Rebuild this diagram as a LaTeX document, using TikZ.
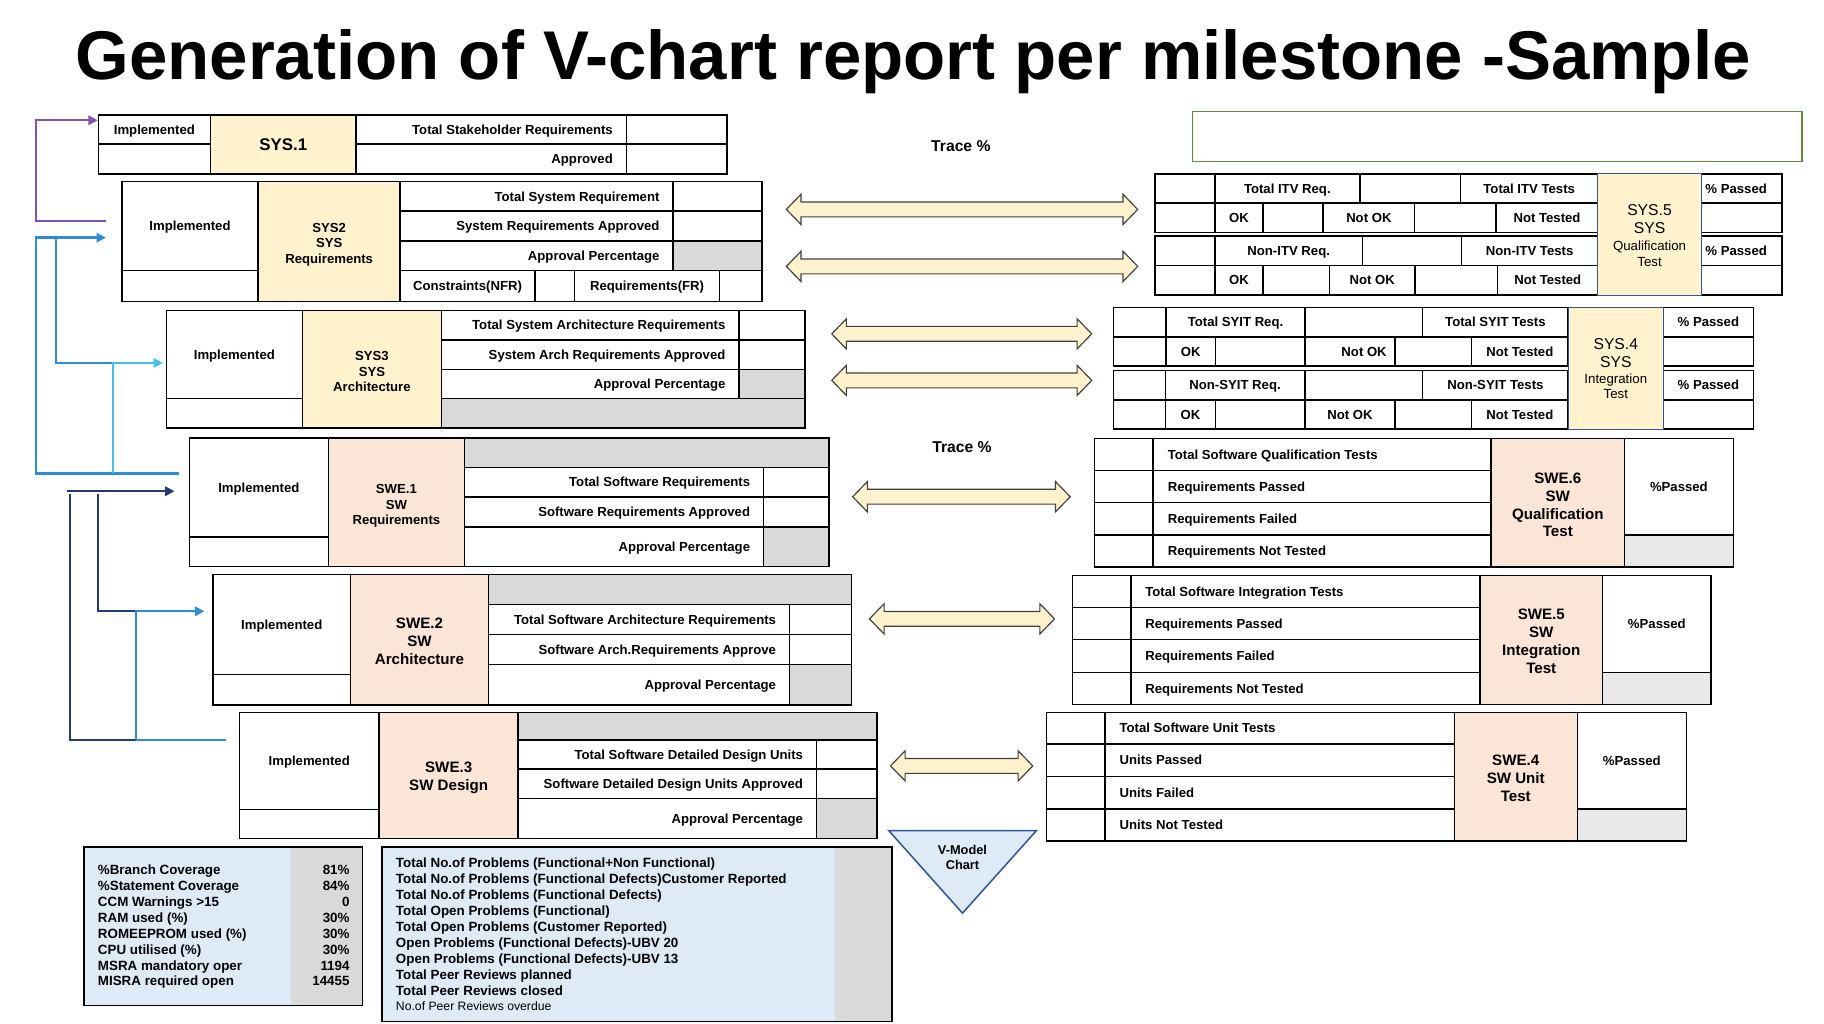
\documentclass[tikz,border=0pt]{standalone}
\usepackage{fontspec}
\setmainfont{Liberation Sans}
\usetikzlibrary{arrows.meta}
\definecolor{yel}{HTML}{FFF2CC}
\definecolor{pch}{HTML}{FBE5D6}
\definecolor{gry}{HTML}{D9D9D9}
\definecolor{lgry}{HTML}{E9E9E9}
\definecolor{lblu}{HTML}{DEEBF7}
\definecolor{purp}{HTML}{8152B3}
\definecolor{blu}{HTML}{2E8BD6}
\definecolor{cyn}{HTML}{45BDEE}
\definecolor{nav}{HTML}{1F3B78}
\definecolor{grn}{HTML}{5B8C3A}
\definecolor{vbord}{HTML}{2F5597}
\definecolor{arrbord}{HTML}{404040}
\newcommand{\ecell}[5]{\draw[tb,fill=#5] (#1,#2) rectangle (#3,#4);}
\newcommand{\rcell}[5]{\draw[tb,fill=white] (#1,#2) rectangle (#3,#4); \node[lbl,anchor=east] at ({#3-11.5},{(#2+#4)/2}) {#5};}
\newcommand{\ccell}[5]{\draw[tb,fill=white] (#1,#2) rectangle (#3,#4); \node[lbl] at ({(#1+#3)/2},{(#2+#4)/2}) {#5};}
\newcommand{\lcell}[6]{\draw[tb,fill=white] (#1,#2) rectangle (#3,#4); \node[lbl,anchor=west] at ({#1+#6},{(#2+#4)/2}) {#5};}
\newcommand{\darrow}[3]{\draw[draw=arrbord,fill=yel,line width=1pt,line join=miter] (#1,#3) -- ({#1+12.6},{#3-13}) -- ({#1+12.6},{#3-6.4}) -- ({#2-12.6},{#3-6.4}) -- ({#2-12.6},{#3-13}) -- (#2,#3) -- ({#2-12.6},{#3+13}) -- ({#2-12.6},{#3+6.4}) -- ({#1+12.6},{#3+6.4}) -- ({#1+12.6},{#3+13}) -- cycle;}
\begin{document}
\begin{tikzpicture}[x=1pt,y=-1pt,
  tb/.style={draw=black,line width=1.3pt},
  lbl/.style={font=\fontsize{11.3}{13}\selectfont\bfseries,inner sep=0pt,text height=8pt,text depth=0pt},
  mid/.style={font=\fontsize{11.3}{13.2}\selectfont\bfseries,inner sep=0pt,align=center},
  big/.style={font=\fontsize{13}{15.4}\selectfont\bfseries,inner sep=0pt,align=center},
  bx/.style={font=\fontsize{11.5}{13}\selectfont\bfseries,inner sep=0pt,text height=8pt,text depth=0pt},
  conn/.style={line width=2pt,-{Triangle[length=8pt,width=8pt]}},
  plain/.style={line width=2pt}]
\useasboundingbox (0,0) rectangle (1568,880);
\fill[white] (0,0) rectangle (1568,880);
% title
\node[font=\fontsize{59.3}{66}\selectfont\bfseries,inner sep=0pt,anchor=base] (title) at (785,68) {Generation of V-chart report per milestone -Sample};
% ---------------- SYS.1
\ccell{84.5}{99}{181}{124}{Implemented}
\ecell{84.5}{124}{181}{149.5}{white}
\draw[tb,fill=yel] (181,99) rectangle (306,149.5);
\node[font=\fontsize{14.5}{16}\selectfont\bfseries,inner sep=0pt] (sys1) at (243.5,124.5) {SYS.1};
\rcell{306}{99}{538.5}{124}{Total Stakeholder Requirements}
\rcell{306}{124}{538.5}{149.5}{Approved}
\ecell{538.5}{99}{625}{124}{white}
\ecell{538.5}{124}{625}{149.5}{white}
% ---------------- SYS2
\ccell{105}{156}{221.7}{232.5}{Implemented}
\ecell{105}{232.5}{221.7}{259}{white}
\draw[tb,fill=yel] (221.7,156) rectangle (344,259);
\node[mid] (sys2) at (283,210.2) {SYS2\\SYS\\Requirements};
\rcell{344}{156}{578.6}{181.6}{Total System Requirement}
\rcell{344}{181.6}{578.6}{207.2}{System Requirements Approved}
\rcell{344}{207.2}{578.6}{232.5}{Approval Percentage}
\ecell{578.6}{156}{655}{181.6}{white}
\ecell{578.6}{181.6}{655}{207.2}{white}
\ecell{578.6}{207.2}{655}{232.5}{gry}
\ccell{344}{232.5}{459.8}{259}{Constraints(NFR)}
\ecell{459.8}{232.5}{494}{259}{white}
\ccell{494}{232.5}{618.5}{259}{Requirements(FR)}
\ecell{618.5}{232.5}{655}{259}{white}
% ---------------- SYS3
\ccell{143}{267}{260}{342.6}{Implemented}
\ecell{143}{342.6}{260}{368.1}{white}
\draw[tb,fill=yel] (260,267) rectangle (379.5,368.1);
\node[mid] (sys3) at (319.75,319.6) {SYS3\\SYS\\Architecture};
\rcell{379.5}{267}{635.3}{292.2}{Total System Architecture Requirements}
\rcell{379.5}{292.2}{635.3}{317.7}{System Arch Requirements Approved}
\rcell{379.5}{317.7}{635.3}{342.6}{Approval Percentage}
\ecell{635.3}{267}{692}{292.2}{white}
\ecell{635.3}{292.2}{692}{317.7}{white}
\ecell{635.3}{317.7}{692}{342.6}{gry}
\ecell{379.5}{342.6}{692}{368.1}{gry}
% ---------------- SWE.1
\ccell{162.8}{376.4}{282.2}{461.8}{Implemented}
\ecell{162.8}{461.8}{282.2}{487}{white}
\draw[tb,fill=pch] (282.2,376.4) rectangle (399.3,487);
\node[mid] (swe1) at (340.75,434.8) {SWE.1\\SW\\Requirements};
\ecell{399.3}{376.4}{712.7}{401.7}{gry}
\rcell{399.3}{401.7}{656.5}{427.2}{Total Software Requirements}
\rcell{399.3}{427.2}{656.5}{453.2}{Software Requirements Approved}
\rcell{399.3}{453.2}{656.5}{487}{Approval Percentage}
\ecell{656.5}{401.7}{712.7}{427.2}{white}
\ecell{656.5}{427.2}{712.7}{453.2}{white}
\ecell{656.5}{453.2}{712.7}{487}{gry}
% ---------------- SWE.2
\ccell{183}{493.9}{301.4}{580}{Implemented}
\ecell{183}{580}{301.4}{606}{white}
\draw[tb,fill=pch] (301.4,493.9) rectangle (419.8,606);
\node[big] (swe2) at (360.6,551.3) {SWE.2\\SW\\Architecture};
\ecell{419.8}{493.9}{732}{519.75}{gry}
\rcell{419.8}{519.75}{678.8}{545.3}{Total Software Architecture Requirements}
\rcell{419.8}{545.3}{678.8}{571.2}{Software Arch.Requirements Approve}
\rcell{419.8}{571.2}{678.8}{606}{Approval Percentage}
\ecell{678.8}{519.75}{732}{545.3}{white}
\ecell{678.8}{545.3}{732}{571.2}{white}
\ecell{678.8}{571.2}{732}{606}{gry}
% ---------------- SWE.3
\ccell{205.7}{612.3}{326}{695.7}{Implemented}
\ecell{205.7}{695.7}{326}{721}{white}
\draw[tb,fill=pch] (326,612.3) rectangle (445.4,721);
\node[big] (swe3) at (385.7,668.6) {SWE.3\\SW Design};
\ecell{445.4}{612.3}{754}{636.2}{gry}
\rcell{445.4}{636.2}{702}{661.2}{Total Software Detailed Design Units}
\rcell{445.4}{661.2}{702}{686.5}{Software Detailed Design Units Approved}
\rcell{445.4}{686.5}{702}{721}{Approval Percentage}
\ecell{702}{636.2}{754}{661.2}{white}
\ecell{702}{661.2}{754}{686.5}{white}
\ecell{702}{686.5}{754}{721}{gry}
% ---------------- left connectors
\draw[purp,conn] (91,190) -- (31,190) -- (31,103.4) -- (84,103.4);
\draw[blu,conn] (154,407) -- (31,407) -- (31,204.3) -- (91,204.3);
\draw[blu,plain] (48,204.3) -- (48,312) -- (97,312);
\draw[cyn,conn] (97,407) -- (97,312) -- (140,312);
\draw[nav,conn] (58,422.3) -- (150,422.3);
\draw[nav,plain] (60,424.5) -- (60,636) -- (117,636);
\draw[blu,plain] (117,636) -- (194,636);
\draw[nav,plain] (84.3,424.5) -- (84.3,525.5) -- (117,525.5);
\draw[blu,conn] (117,636) -- (117,525.5) -- (175.6,525.5);
% ---------------- middle
\node[font=\fontsize{13.5}{15}\selectfont\bfseries] (trace1) at (826,126) {Trace \%};
\node[font=\fontsize{13.5}{15}\selectfont\bfseries] (trace2) at (827,384) {Trace \%};
\darrow{676}{978}{180}
\darrow{676}{978}{229}
\darrow{715}{938.5}{287}
\darrow{715}{938.5}{327}
\darrow{733}{920}{427}
\darrow{747.4}{906.5}{532}
\darrow{765.5}{887.8}{658.4}
\draw[draw=vbord,fill=lblu,line width=1.3pt,line join=miter] (764,714) -- (891,714) -- (827.4,785) -- cycle;
\node[font=\fontsize{11}{12.5}\selectfont\bfseries,align=center,inner sep=0pt] (vm) at (827.4,737) {V-Model\\Chart};
% ---------------- green box
\draw[grn,line width=1.3pt] (1025,96) rectangle (1549,139);
% ---------------- SYS.5
\ecell{993.1}{149.4}{1044.4}{174.5}{white}
\ccell{1044.4}{149.4}{1168.9}{174.5}{Total ITV Req.}
\ecell{1168.9}{149.4}{1255.5}{174.5}{white}
\ccell{1255.5}{149.4}{1373.6}{174.5}{Total ITV Tests}
\lcell{1462.4}{149.4}{1531.7}{174.5}{\% Passed}{3.5}
\ecell{993.1}{174.5}{1044.4}{199.9}{white}
\ccell{1044.4}{174.5}{1085.7}{199.9}{OK}
\ecell{1085.7}{174.5}{1137.4}{199.9}{white}
\ccell{1137.4}{174.5}{1216.1}{199.9}{Not OK}
\ecell{1216.1}{174.5}{1286.2}{199.9}{white}
\ccell{1286.2}{174.5}{1373.6}{199.9}{Not Tested}
\ecell{1462.4}{174.5}{1531.7}{199.9}{white}
\ecell{993.1}{202.7}{1044.4}{228.4}{white}
\ccell{1044.4}{202.7}{1171.2}{228.4}{Non-ITV Req.}
\ecell{1171.2}{202.7}{1256.3}{228.4}{white}
\ccell{1256.3}{202.7}{1373.6}{228.4}{Non-ITV Tests}
\lcell{1462.4}{202.7}{1531.7}{228.4}{\% Passed}{3.5}
\ecell{993.1}{228.4}{1044.4}{253.5}{white}
\ccell{1044.4}{228.4}{1085.7}{253.5}{OK}
\ecell{1085.7}{228.4}{1142.9}{253.5}{white}
\ccell{1142.9}{228.4}{1216.4}{253.5}{Not OK}
\ecell{1216.4}{228.4}{1287.4}{253.5}{white}
\ccell{1287.4}{228.4}{1373.6}{253.5}{Not Tested}
\ecell{1462.4}{228.4}{1531.7}{253.5}{white}
\draw[draw=vbord,fill=yel,line width=1pt] (1373.6,149.4) rectangle (1462.4,254);
\node[font=\fontsize{13.5}{15}\selectfont,inner sep=0pt,text height=9.5pt,text depth=0pt] (sys5a) at (1418,180.7) {SYS.5};
\node[font=\fontsize{13.5}{15}\selectfont,inner sep=0pt,text height=9.5pt,text depth=0pt] (sys5b) at (1418,196.4) {SYS};
\node[font=\fontsize{11.4}{13}\selectfont,inner sep=0pt,text height=8pt,text depth=0pt] (sys5c) at (1418,211.3) {Qualification};
\node[font=\fontsize{11.4}{13}\selectfont,inner sep=0pt,text height=8pt,text depth=0pt] (sys5d) at (1418,224.7) {Test};
% ---------------- SYS.4
\ecell{957}{264.3}{1002.5}{289.7}{white}
\ccell{1002.5}{264.3}{1121.7}{289.7}{Total SYIT Req.}
\ecell{1121.7}{264.3}{1222.9}{289.7}{white}
\ccell{1222.9}{264.3}{1348.1}{289.7}{Total SYIT Tests}
\ccell{1429.8}{264.3}{1507.4}{289.7}{\% Passed}
\ecell{957}{289.7}{1002.5}{314.8}{white}
\ccell{1002.5}{289.7}{1044.9}{314.8}{OK}
\ecell{1044.9}{289.7}{1121.7}{314.8}{white}
\rcell{1121.7}{289.7}{1199.3}{314.8}{\hspace*{0pt}Not OK\hspace*{-4.5pt}}
\ecell{1199.3}{289.7}{1264.9}{314.8}{white}
\ccell{1264.9}{289.7}{1348.1}{314.8}{Not Tested}
\ecell{1429.8}{289.7}{1507.4}{314.8}{white}
\ecell{957}{318.3}{1001.7}{344}{white}
\ccell{1001.7}{318.3}{1121.7}{344}{Non-SYIT Req.}
\ecell{1121.7}{318.3}{1222.9}{344}{white}
\ccell{1222.9}{318.3}{1348.1}{344}{Non-SYIT Tests}
\ccell{1429.8}{318.3}{1507.4}{344}{\% Passed}
\ecell{957}{344}{1001.7}{369}{white}
\ccell{1001.7}{344}{1044.9}{369}{OK}
\ecell{1044.9}{344}{1121.7}{369}{white}
\ccell{1121.7}{344}{1199.3}{369}{Not OK}
\ecell{1199.3}{344}{1264.9}{369}{white}
\ccell{1264.9}{344}{1348.1}{369}{Not Tested}
\ecell{1429.8}{344}{1507.4}{369}{white}
\draw[draw=vbord,fill=yel,line width=1pt] (1348.1,264.3) rectangle (1429.8,369);
\node[font=\fontsize{13.5}{15}\selectfont,inner sep=0pt,text height=9.5pt,text depth=0pt] (sys4a) at (1389,295.7) {SYS.4};
\node[font=\fontsize{13.5}{15}\selectfont,inner sep=0pt,text height=9.5pt,text depth=0pt] (sys4b) at (1389,311.1) {SYS};
\node[font=\fontsize{11.4}{13}\selectfont,inner sep=0pt,text height=8pt,text depth=0pt] (sys4c) at (1389,325.7) {Integration};
\node[font=\fontsize{11.4}{13}\selectfont,inner sep=0pt,text height=8pt,text depth=0pt] (sys4d) at (1389,338.8) {Test};
% ---------------- SWE.6
\ecell{941}{377}{991.1}{404.5}{white}
\ecell{941}{404.5}{991.1}{432}{white}
\ecell{941}{432}{991.1}{460}{white}
\ecell{941}{460}{991.1}{487.5}{white}
\lcell{991.1}{377}{1281.8}{404.5}{Total Software Qualification Tests}{12.6}
\lcell{991.1}{404.5}{1281.8}{432}{Requirements Passed}{12.6}
\lcell{991.1}{432}{1281.8}{460}{Requirements Failed}{12.6}
\lcell{991.1}{460}{1281.8}{487.5}{Requirements Not Tested}{12.6}
\draw[tb,fill=pch] (1281.8,377) rectangle (1396.5,487.5);
\node[big] (swe6) at (1339.15,434) {SWE.6\\SW\\Qualification\\Test};
\ccell{1396.5}{377}{1490}{460}{\%Passed}
\ecell{1396.5}{460}{1490}{487.5}{lgry}
% ---------------- SWE.5
\ecell{922.1}{494.9}{972.2}{522.1}{white}
\ecell{922.1}{522.1}{972.2}{549.9}{white}
\ecell{922.1}{549.9}{972.2}{577.9}{white}
\ecell{922.1}{577.9}{972.2}{605.7}{white}
\lcell{972.2}{494.9}{1272.3}{522.1}{Total Software Integration Tests}{12.2}
\lcell{972.2}{522.1}{1272.3}{549.9}{Requirements Passed}{12.2}
\lcell{972.2}{549.9}{1272.3}{577.9}{Requirements Failed}{12.2}
\lcell{972.2}{577.9}{1272.3}{605.7}{Requirements Not Tested}{12.2}
\draw[tb,fill=pch] (1272.3,494.9) rectangle (1377.6,605.7);
\node[big] (swe5) at (1324.95,551.6) {SWE.5\\SW\\Integration\\Test};
\ccell{1377.6}{494.9}{1471}{577.9}{\%Passed}
\ecell{1377.6}{577.9}{1471}{605.7}{lgry}
% ---------------- SWE.4
\ecell{899.6}{612.3}{949.7}{639.5}{white}
\ecell{899.6}{639.5}{949.7}{667.5}{white}
\ecell{899.6}{667.5}{949.7}{695.3}{white}
\ecell{899.6}{695.3}{949.7}{723}{white}
\lcell{949.7}{612.3}{1250.2}{639.5}{Total Software Unit Tests}{12.6}
\lcell{949.7}{639.5}{1250.2}{667.5}{Units Passed}{12.6}
\lcell{949.7}{667.5}{1250.2}{695.3}{Units Failed}{12.6}
\lcell{949.7}{695.3}{1250.2}{723}{Units Not Tested}{12.6}
\draw[tb,fill=pch] (1250.2,612.3) rectangle (1355.9,723);
\node[big] (swe4) at (1303,669.3) {SWE.4\\SW Unit\\Test};
\ccell{1355.9}{612.3}{1449.7}{695.3}{\%Passed}
\ecell{1355.9}{695.3}{1449.7}{723}{lgry}
% ---------------- bottom box 1
\fill[lblu] (72,728) rectangle (311.7,864.2);
\fill[gry] (250.3,728) rectangle (311.7,864.2);
\draw[tb] (72,728) rectangle (311.7,864.2);
\foreach \t/\v [count=\i from 0] in {{\%Branch Coverage}/{81\%},{\%Statement Coverage}/{84\%},{CCM Warnings >15}/{0},{RAM used (\%)}/{30\%},{ROMEEPROM used (\%)}/{30\%},{CPU utilised (\%)}/{30\%},{MSRA mandatory oper}/{1194},{MISRA required open}/{14455}}{
  \node[bx,anchor=west] (ml\i) at (84,748+13.65*\i) {\t};
  \node[bx,anchor=east] (mv\i) at (300.7,748+13.65*\i) {\v};
}
% ---------------- bottom box 2
\fill[lblu] (328.2,728) rectangle (767,878);
\fill[gry] (717.6,728) rectangle (767,878);
\draw[tb] (328.2,728) rectangle (767,878);
\foreach \t [count=\i from 0] in {{Total No.of Problems (Functional+Non Functional)},{Total No.of Problems (Functional Defects)Customer Reported},{Total No.of Problems (Functional Defects)},{Total Open Problems (Functional)},{Total Open Problems (Customer Reported)},{Open Problems (Functional Defects)-UBV 20},{Open Problems (Functional Defects)-UBV 13},{Total Peer Reviews planned},{Total Peer Reviews closed}}{
  \node[bx,anchor=west] (pl\i) at (340.2,742+13.7*\i) {\t};
}
\node[font=\fontsize{10.5}{12}\selectfont,inner sep=0pt,text height=7.6pt,text depth=0pt,anchor=west] (pl9) at (340.2,865) {No.of Peer Reviews overdue};
\end{tikzpicture}
\end{document}
